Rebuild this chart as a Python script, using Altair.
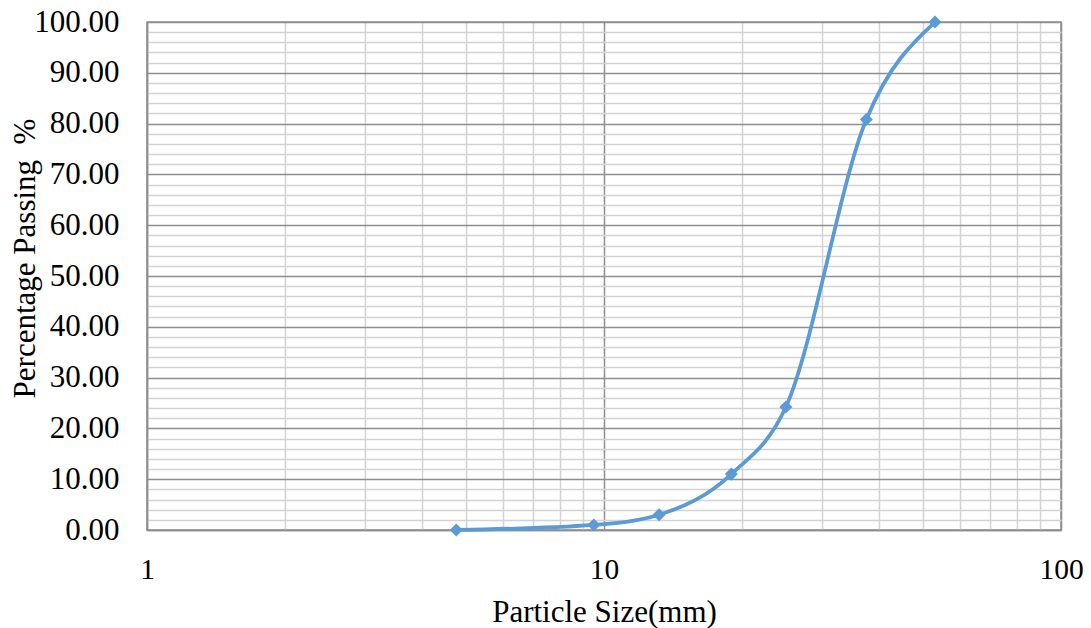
import altair as alt
import pandas as pd

# Sieve analysis data
sizes_mm = [4.75, 9.5, 13.2, 19.0, 25.0, 37.5, 53.0]
passing_pct = [0.0, 1.0, 3.0, 11.0, 24.2, 80.8, 100.0]

x_tick_values = [1, 2, 3, 4, 5, 6, 7, 8, 9, 10, 20, 30, 40, 50, 60, 70, 80, 90, 100]
y_tick_values = list(range(0, 101, 2))

df = pd.DataFrame({"size": sizes_mm, "passing": passing_pct})

FONT = "Liberation Serif"
BLUE = "#5B9BD5"
MAJOR = "#8e8e8e"
MINOR = "#d3d3d3"

x_enc = alt.X(
    "size:Q",
    scale=alt.Scale(type="log", domain=[1, 100], nice=False),
    axis=alt.Axis(
        values=x_tick_values,
        tickCount=100,
        title="Particle Size(mm)",
        labelExpr="(datum.value == 1 || datum.value == 10 || datum.value == 100) ? format(datum.value, 'd') : ''",
        labelOverlap=False,
        labelFlush=False,
        labelBound=False,
        labelFont=FONT,
        labelFontSize=29.5,
        labelColor="#000000",
        labelBaseline="alphabetic",
        labelPadding=48,
        ticks=False,
        tickSize=0,
        domainColor=MAJOR,
        domainWidth=1.5,
        grid=True,
        gridColor=alt.condition(
            "datum.value == 1 || datum.value == 10 || datum.value == 100",
            alt.value(MAJOR),
            alt.value(MINOR),
        ),
        gridWidth=1.5,
        titleFont=FONT,
        titleFontSize=31,
        titleFontWeight="normal",
        titleColor="#000000",
        titleBaseline="alphabetic",
        titleY=91,
    ),
)

y_enc = alt.Y(
    "passing:Q",
    scale=alt.Scale(domain=[0, 100], nice=False, zero=True),
    axis=alt.Axis(
        values=y_tick_values,
        tickCount=100,
        title="Percentage Passing \u00a0%",
        labelExpr="datum.value % 10 === 0 ? format(datum.value, '.2f') : ''",
        labelOverlap=False,
        labelFlush=False,
        labelBound=False,
        labelFont=FONT,
        labelFontSize=31,
        labelColor="#000000",
        labelPadding=28,
        ticks=False,
        tickSize=0,
        domainColor=MAJOR,
        domainWidth=1.5,
        grid=True,
        gridColor=alt.condition(
            "datum.value % 10 === 0",
            alt.value(MAJOR),
            alt.value(MINOR),
        ),
        gridWidth=1.5,
        titleFont=FONT,
        titleFontSize=31,
        titleFontWeight="normal",
        titleColor="#000000",
        titleAngle=270,
        titleBaseline="alphabetic",
        titleX=-113,
        titleY=236,
    ),
)

base = alt.Chart(df)

line = base.mark_line(
    color=BLUE, strokeWidth=3.75, interpolate="monotone"
).encode(x=x_enc, y=y_enc)

points = base.mark_point(
    shape="diamond", filled=True, color=BLUE, size=170, opacity=1
).encode(x="size:Q", y="passing:Q")

chart = (
    alt.layer(line, points)
    .properties(
        width=914,
        height=508,
        autosize=alt.AutoSizeParams(type="none"),
        padding={"left": 139, "top": 14, "right": 22, "bottom": 100},
        background="#ffffff",
    )
    .configure_view(stroke=MAJOR, strokeWidth=1.5)
)

chart.save("out.html", embed_options={"renderer": "svg", "actions": False})
